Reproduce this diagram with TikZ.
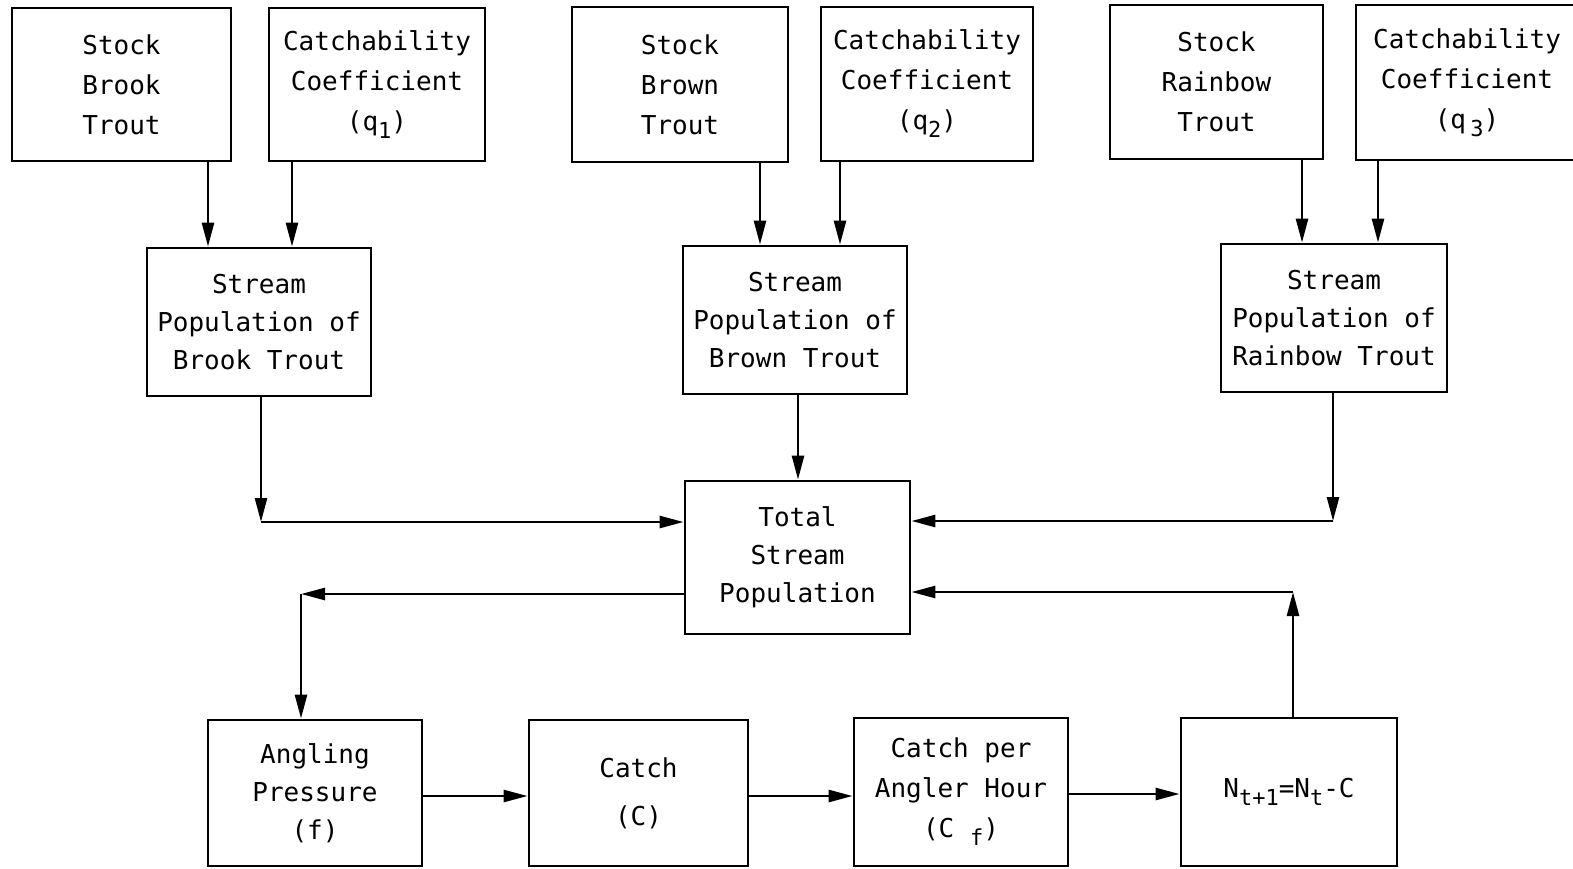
\documentclass[tikz,border=0pt]{standalone}
\usepackage{fontspec}
\setmonofont{DejaVu Sans Mono}
\usetikzlibrary{arrows.meta}
\newcommand\mybox[7][20]{%
  \node[box, font=\ttfamily\fontsize{13}{#1}\selectfont,
        minimum width={(#5-#3)*0.5pt}, minimum height={(#6-#4)*0.5pt}]
        (#2) at ({(#3+#5)/2},{(#4+#6)/2}) {#7};}
\newcommand\lowsub[1]{\raisebox{-4pt}{\fontsize{11}{11}\selectfont #1}}
\begin{document}
\begin{tikzpicture}[x=0.5pt,y=-0.5pt,
  box/.style={draw, line width=1.4pt, align=center, inner sep=0pt},
  arr/.style={line width=1.3pt, -{Triangle[length=12pt,width=6pt]}}]
\useasboundingbox (0,0) rectangle (1573,868);
\clip (0,0) rectangle (1573,868);
% top row
\mybox{sb1}{12}{8}{231}{161}{Stock\\Brook\\Trout}
\mybox{qa}{269}{8}{485}{161}{Catchability\\Coefficient\\(q\lowsub{1})}
\mybox{sb2}{572}{7}{788}{162}{Stock\\Brown\\Trout}
\mybox{qb}{821}{7}{1033}{161}{Catchability\\Coefficient\\(q\lowsub{2})}
\mybox{sb3}{1110}{5}{1323}{159}{Stock\\Rainbow\\Trout}
\mybox{qc}{1356}{5}{1578}{160}{Catchability\\Coefficient\\(q\,\lowsub{3})}
% population boxes
\mybox[19]{p1}{147}{248}{371}{396}{Stream\\Population of\\Brook Trout}
\mybox[19]{p2}{683}{246}{907}{394}{Stream\\Population of\\Brown Trout}
\mybox[19]{p3}{1221}{244}{1447}{392}{Stream\\Population of\\Rainbow Trout}
% total
\mybox[19]{tot}{685}{481}{910}{634}{Total\\Stream\\Population}
% bottom row
\mybox[19]{ang}{208}{720}{422}{866}{Angling\\Pressure\\(f)}
\mybox[24]{cat}{529}{720}{748}{866}{Catch\\(C)}
\mybox[20]{cpa}{854}{718}{1068}{866}{Catch per\\Angler Hour\\(C \lowsub{f})}
\mybox{nt}{1181}{718}{1397}{866}{N\lowsub{t+1}=N\lowsub{t}-C}
% coordinates for bends
\coordinate (c1) at (261,522);
\coordinate (c3) at (1333,521);
\coordinate (c4) at (301,594);
\coordinate (c5) at (1293,592);
% arrows top -> population
\draw[arr] (sb1.south -| 208,0) -- (p1.north -| 208,0);
\draw[arr] (qa.south -| 292,0) -- (p1.north -| 292,0);
\draw[arr] (sb2.south -| 760,0) -- (p2.north -| 760,0);
\draw[arr] (qb.south -| 840,0) -- (p2.north -| 840,0);
\draw[arr] (sb3.south -| 1302,0) -- (p3.north -| 1302,0);
\draw[arr] (qc.south -| 1378,0) -- (p3.north -| 1378,0);
% population -> total
\draw[arr] (p1.south -| c1) -- (c1);
\draw[arr] (c1) -- (tot.west |- c1);
\draw[arr] (p2.south -| 798,0) -- (tot.north -| 798,0);
\draw[arr] (p3.south -| c3) -- (c3);
\draw[arr] (c3) -- (tot.east |- c3);
% total -> angling
\draw[arr] (tot.west |- c4) -- (c4);
\draw[arr] (c4) -- (ang.north -| c4);
% bottom row chain
\draw[arr] (ang.east |- 0,796) -- (cat.west |- 0,796);
\draw[arr] (cat.east |- 0,796) -- (cpa.west |- 0,796);
\draw[arr] (cpa.east |- 0,794) -- (nt.west |- 0,794);
% feedback
\draw[arr] (nt.north -| c5) -- (c5);
\draw[arr] (c5) -- (tot.east |- c5);
\end{tikzpicture}
\end{document}
